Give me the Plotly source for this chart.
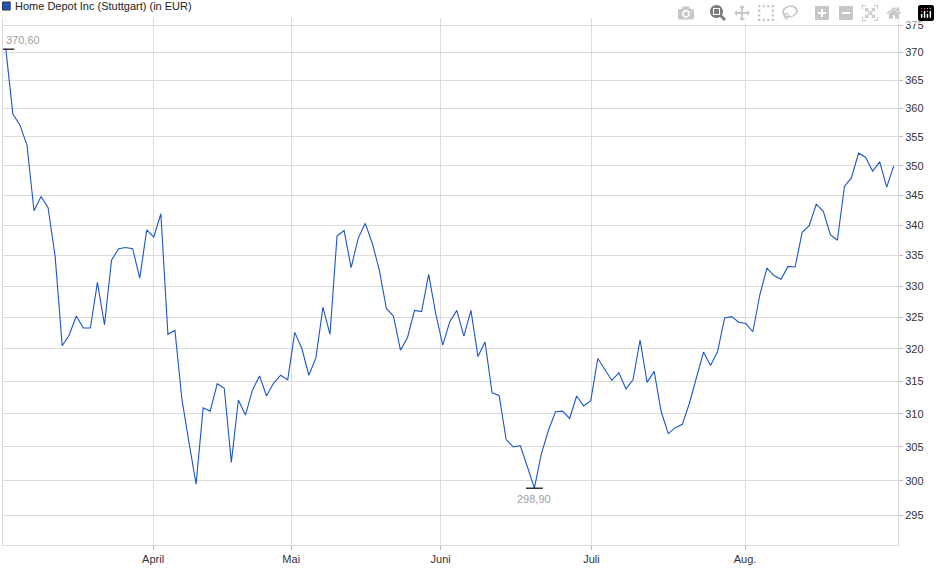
import math
import plotly.graph_objects as go

prices = [370.6, 359.0, 357.1, 353.6, 342.4, 344.8, 342.9, 334.8, 320.5, 322.2,
          325.2, 323.3, 323.3, 330.6, 323.8, 334.2, 336.1, 336.3, 336.1, 331.3,
          339.2, 338.0, 341.9, 322.3, 322.9, 312.1, 305.6, 299.5, 310.9, 310.4,
          314.6, 313.9, 302.7, 312.1, 309.8, 313.6, 315.8, 312.7, 314.7, 315.9,
          315.2, 322.6, 320.1, 315.9, 318.6, 326.6, 322.3, 338.2, 339.1, 333.0,
          337.8, 340.3, 337.0, 332.6, 326.4, 325.2, 319.8, 321.8, 326.1, 325.9,
          331.9, 325.6, 320.6, 324.3, 326.1, 322.0, 326.1, 318.8, 321.1, 313.2,
          312.8, 306.1, 305.0, 305.2, 302.1, 298.9, 304.0, 307.5, 310.3, 310.4,
          309.3, 312.7, 311.2, 312.0, 318.5, 316.7, 315.1, 316.3, 313.8, 315.2,
          321.4, 314.8, 316.5, 310.3, 307.0, 307.9, 308.4, 311.6, 315.7, 319.5,
          317.4, 319.6, 324.9, 325.1, 324.2, 324.0, 322.7, 328.6, 332.9, 331.7,
          331.1, 333.2, 333.1, 338.8, 339.9, 343.5, 342.3, 338.4, 337.5, 346.5,
          348.0, 352.2, 351.5, 349.1, 350.7, 346.4, 350.0]
days = list(range(len(prices)))

month_pos = [20.9, 40.5, 61.7, 83.1, 104.9]
month_labels = ["April", "Mai", "Juni", "Juli", "Aug."]
y_ticks = [295, 300, 305, 310, 315, 320, 325, 330, 335, 340, 345, 350, 355, 360, 365, 370, 375]

imax = prices.index(max(prices))
imin = prices.index(min(prices))

fig = go.Figure()
fig.add_trace(go.Scatter(x=days, y=prices, mode="lines",
                         line=dict(color="#1a56c8", width=1.1), showlegend=False,
                         hoverinfo="skip"))
fig.add_trace(go.Scatter(x=[imax, imin], y=[prices[imax], prices[imin]], mode="markers",
                         marker=dict(symbol="line-ew", size=12,
                                     line=dict(color="black", width=1.2)),
                         showlegend=False, hoverinfo="skip"))

def fmt(v):
    return f"{v:.2f}".replace(".", ",")

fig.add_annotation(x=imax, y=math.log10(prices[imax]), text=fmt(prices[imax]),
                   showarrow=False, xanchor="left", yanchor="bottom", xshift=-2, yshift=1,
                   font=dict(family="Liberation Sans, Arial", size=11, color="#a0a0a0"))
fig.add_annotation(x=imin, y=math.log10(prices[imin]), text=fmt(prices[imin]),
                   showarrow=False, xanchor="center", yanchor="top", yshift=-3,
                   font=dict(family="Liberation Sans, Arial", size=11, color="#a0a0a0"))

fig.add_annotation(xref="paper", yref="paper", x=0.0, y=1.0, xshift=10, yshift=12,
                   text="Home Depot Inc (Stuttgart) (in EUR)", showarrow=False,
                   xanchor="left", yanchor="middle",
                   font=dict(family="Liberation Sans, Arial", size=11, color="#222"))
fig.add_shape(type="rect", xref="paper", yref="paper", x0=-0.0005, x1=0.008,
              y0=1.0 + 8/527, y1=1.0 + 16/527,
              fillcolor="#1a56c8", line=dict(color="#333", width=1))

fig.update_layout(
    width=940, height=579,
    margin=dict(l=3, r=42, t=18, b=34),
    paper_bgcolor="white", plot_bgcolor="white",
    font=dict(family="Liberation Sans, Arial", size=11, color="#333"),
    xaxis=dict(range=[-0.4, 126.6], tickmode="array", tickvals=month_pos,
               ticktext=month_labels, showgrid=True, gridcolor="#dcdcdc", gridwidth=1,
               zeroline=False, ticks="outside", ticklen=4, tickcolor="#bbb",
               showline=True, linecolor="#dcdcdc", mirror=False,
               tickfont=dict(size=11, color="#333")),
    yaxis=dict(type="log", side="right", range=[math.log10(290.7), math.log10(376.3)],
               tickmode="array", tickvals=y_ticks, ticktext=[str(t) for t in y_ticks],
               showgrid=True, gridcolor="#dcdcdc", gridwidth=1, zeroline=False,
               ticks="outside", ticklen=4, tickcolor="#bbb",
               showline=True, linecolor="#dcdcdc", mirror=True,
               tickfont=dict(size=11, color="#333")),
)
fig.write_html("out.html", post_script="document.body.style.margin='0';")
